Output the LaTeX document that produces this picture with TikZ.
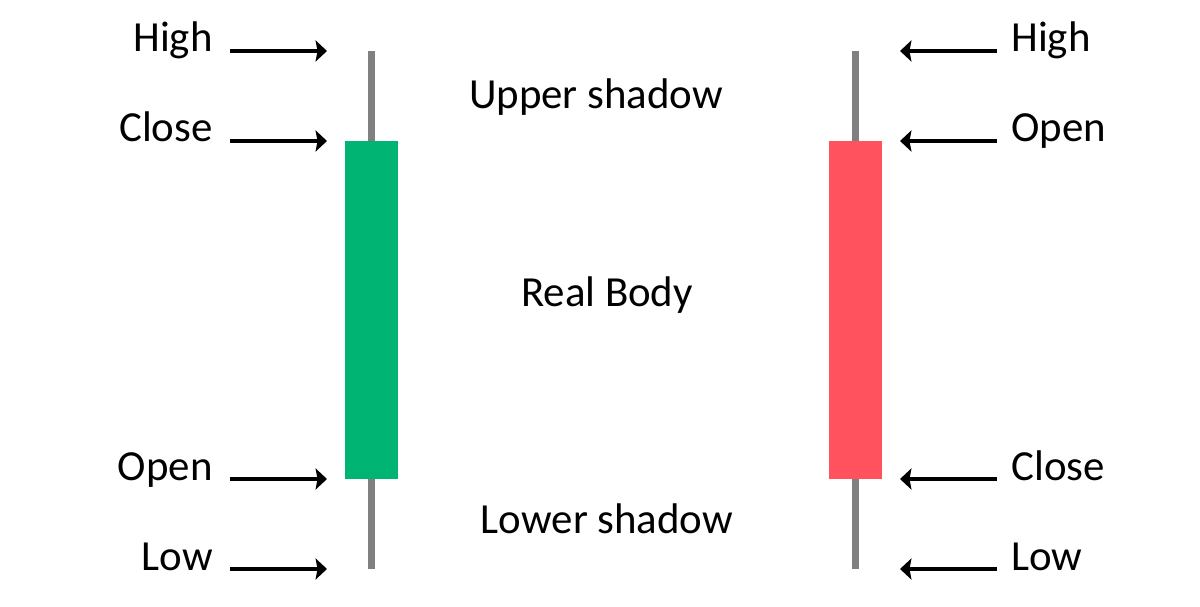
\documentclass[tikz,border=0pt]{standalone}
\usepackage{fontspec}
\setmainfont{Carlito}
\usetikzlibrary{arrows.meta}
\definecolor{bull}{RGB}{0,181,116}
\definecolor{bear}{RGB}{255,82,94}
\definecolor{wickgray}{RGB}{128,128,128}
\tikzset{
  lbl/.style={font=\fontsize{24.4pt}{28pt}\selectfont, inner sep=0pt, text=black},
  wick/.style={draw=wickgray, line width=4pt},
  body/.style={inner sep=0pt, minimum width=1.06cm, minimum height=6.76cm},
  ptr/.style={draw=black, line width=2pt, -{Stealth[length=6.5pt,width=12pt,inset=1.1pt]}}
}
\begin{document}
\begin{tikzpicture}[x=0.02cm,y=-0.02cm]
\useasboundingbox (0,0) rectangle (1200,607);
% wicks
\coordinate (lwt) at (371.5,51);
\coordinate (lwb) at (371.5,569);
\coordinate (rwt) at (855.5,51);
\coordinate (rwb) at (855.5,569);
\draw[wick] (lwt) -- (lwb);
\draw[wick] (rwt) -- (rwb);
% bodies
\node[body, fill=bull] (gbody) at (371.5,310) {};
\node[body, fill=bear] (rbody) at (855.5,310) {};
% left labels
\node[lbl, anchor=base east] (lhigh) at (213,52) {High};
\node[lbl, anchor=base east] (lclose) at (213,142) {Close};
\node[lbl, anchor=base east] (lopen) at (213,480) {Open};
\node[lbl, anchor=base east] (llow) at (213,570) {Low};
% right labels
\node[lbl, anchor=base west] (rhigh) at (1011,52) {High};
\node[lbl, anchor=base west] (ropen) at (1011,142) {Open};
\node[lbl, anchor=base west] (rclose) at (1011,480) {Close};
\node[lbl, anchor=base west] (rlow) at (1011,570) {Low};
% middle labels
\node[lbl, anchor=base] (upper) at (596,109) {Upper shadow};
\node[lbl, anchor=base] (real) at (607,307) {Real Body};
\node[lbl, anchor=base] (lower) at (607,534) {Lower shadow};
% arrow coordinates
\foreach \n/\y in {a/51,b/141,c/479,d/569}{
  \coordinate (ls\n) at (230,\y);
  \coordinate (le\n) at (327,\y);
  \coordinate (rs\n) at (997,\y);
  \coordinate (re\n) at (900,\y);
}
\foreach \n in {a,b,c,d}{
  \draw[ptr] (ls\n) -- (le\n);
  \draw[ptr] (rs\n) -- (re\n);
}
\end{tikzpicture}
\end{document}
